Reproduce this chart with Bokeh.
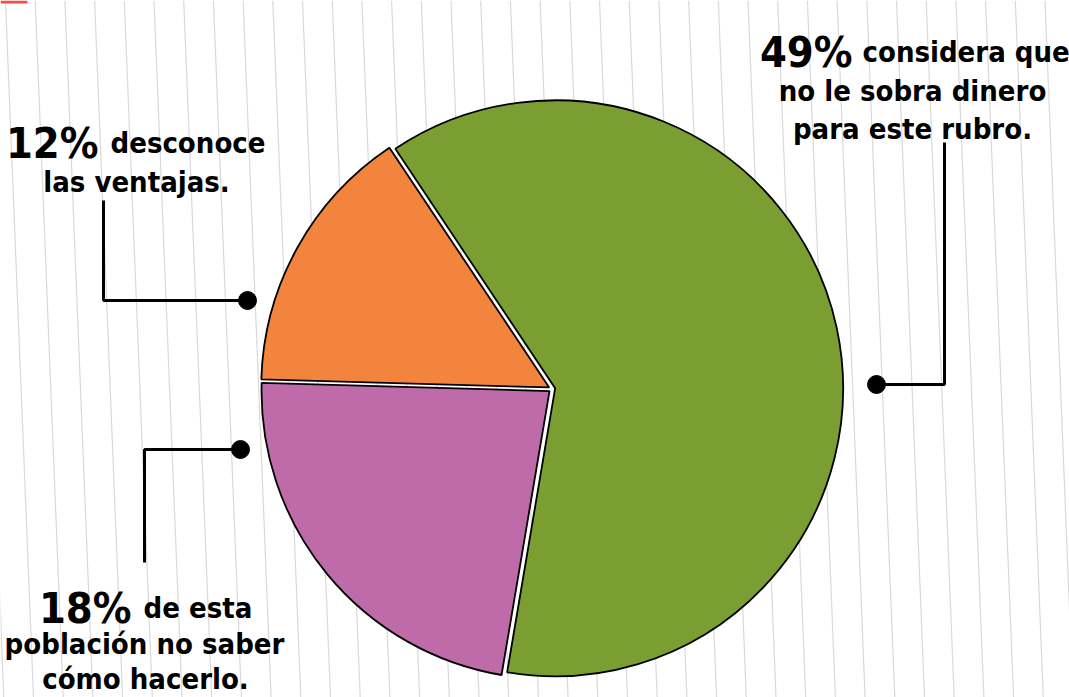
import numpy as np
from bokeh.plotting import figure
from bokeh.models import ColumnDataSource
from bokeh.core.properties import value
from bokeh.embed import file_html
from bokeh.resources import INLINE

# ---- data ----
categories = ["desconoce las ventajas", "no sabe cómo hacerlo", "no le sobra dinero"]
percents = [12, 18, 49]
colors = ["#F3843D", "#BF6BAA", "#7A9E31"]
start_deg = 123.7  # first slice start (counter-clockwise from 3 o'clock)

W, H = 1069, 697
FONT = value("DejaVu Sans Condensed")

def px(sx, sy):
    """screenshot pixel -> data coords"""
    return sx, H - sy

p = figure(width=W, height=H, x_range=(0, W), y_range=(0, H),
           output_backend="svg", toolbar_location=None,
           x_axis_location=None, y_axis_location=None, min_border=0)
p.grid.visible = False
p.outline_line_color = None
p.background_fill_color = "white"
p.border_fill_color = "white"

# notebook background lines (decoration)
xs_top = 5 + np.arange(-1, 37) * 29.7
p.segment(x0=xs_top, y0=np.full(len(xs_top), H + 0.0),
          x1=xs_top + 28.0, y1=np.full(len(xs_top), 0.0),
          line_color="#d9d9d9", line_width=1.2)

# red corner fragment (decoration)
x0, y0 = px(0, 0)
x1, y1 = px(27, 3)
p.quad(left=[x0], right=[x1], top=[y0], bottom=[y1], fill_color="#F0504A", line_color=None)

# ---- pie ----
cx, cy = px(551.5, 388.5)
R = 288
explode = 3.2
total = sum(percents)
angles = np.radians(np.array(percents) / total * 360.0)
starts = np.radians(start_deg) + np.concatenate([[0], np.cumsum(angles)[:-1]])
ends = starts + angles
mids = (starts + ends) / 2
src = ColumnDataSource(dict(
    x=cx + explode * np.cos(mids), y=cy + explode * np.sin(mids),
    start=starts, end=ends, color=colors, cat=categories))
p.wedge(x="x", y="y", radius=R, start_angle="start", end_angle="end",
        fill_color="color", line_color="black", line_width=1.8, source=src)

# ---- leader lines ----
leaders = [
    [(876, 384), (944, 384), (944, 142)],   # 49%
    [(247, 300), (103, 300), (103, 200)],   # 12%
    [(240, 449), (144, 449), (144, 562)],   # 18%
]
for pts in leaders:
    xy = [px(a, b) for a, b in pts]
    p.line([q[0] for q in xy], [q[1] for q in xy], line_color="black", line_width=3)
    p.scatter([xy[0][0]], [xy[0][1]], size=18, color="black")

# ---- labels ----
def txt(sx, sy, s, size, align):
    x, y = px(sx, sy)
    p.text([x], [y], text=[s], text_font=FONT, text_font_style="bold",
           text_font_size=f"{size}px", text_align=align,
           text_baseline="alphabetic", text_color="black")

BIG, SMALL = 43, 29
# 49%
txt(852, 51, f"{percents[2]}%", BIG, "right")
txt(862, 51, "considera que", SMALL, "left")
txt(912, 90, "no le sobra dinero", SMALL, "center")
txt(912, 128, "para este rubro.", SMALL, "center")
# 12%
txt(98, 142, f"{percents[0]}%", BIG, "right")
txt(110, 142, "desconoce", SMALL, "left")
txt(136, 181, "las ventajas.", SMALL, "center")
# 18%
txt(131, 607, f"{percents[1]}%", BIG, "right")
txt(143, 607, "de esta", SMALL, "left")
txt(144, 643, "población no saber", SMALL, "center")
txt(145, 678, "cómo hacerlo.", SMALL, "center")

open("out.html", "w").write(file_html(p, INLINE))
